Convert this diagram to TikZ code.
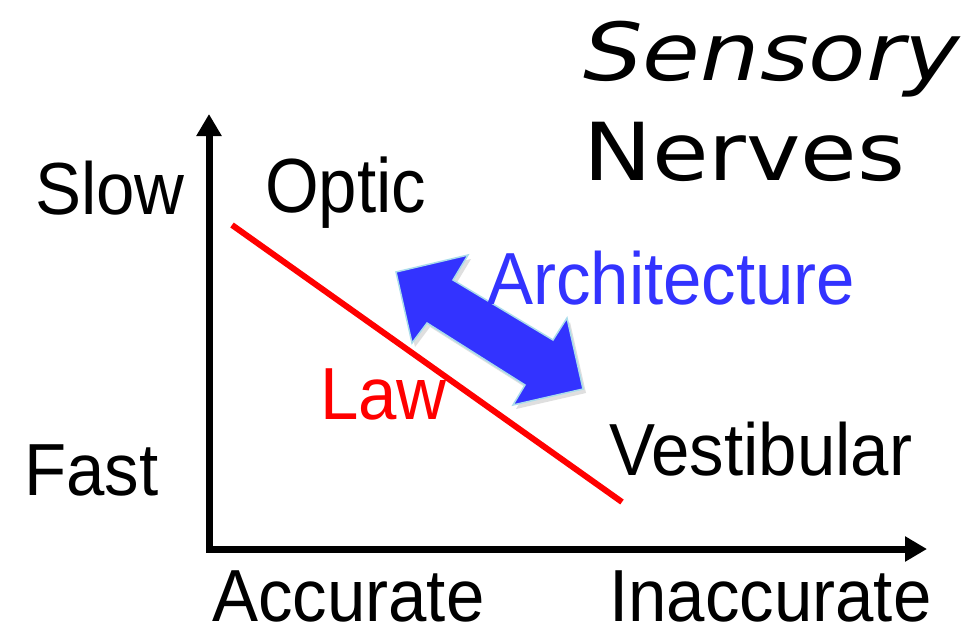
\documentclass[tikz,border=0pt]{standalone}
\usepackage{fontspec}
\setmainfont{Liberation Sans}
\newfontfamily\verd{DejaVu Sans}
\usetikzlibrary{arrows.meta}
\definecolor{archblue}{RGB}{51,51,255}
\definecolor{arrowedge}{RGB}{170,220,235}
\tikzset{
  lbl/.style={anchor=base west, inner sep=0pt, text depth=0pt, yscale=1.07, font=\fontsize{69}{69}\selectfont},
  ttl/.style={anchor=base west, inner sep=0pt, text depth=0pt, xscale=1.15, font=\verd\fontsize{80}{80}\selectfont},
  axis/.style={line width=7pt, {Triangle[width=24pt,length=22pt]}-{Triangle[width=24pt,length=22pt]}},
}
\begin{document}
\begin{tikzpicture}[x=1pt,y=-1pt]
\useasboundingbox (0,0) rectangle (973,635);
% axes
\coordinate (ytip) at (209,114);
\coordinate (origin) at (209,549);
\coordinate (xtip) at (927,549);
\draw[axis, line join=miter] (ytip) -- (origin) -- (xtip);
% law line
\coordinate (l1) at (232,225);
\coordinate (l2) at (622,502);
\draw[red, line width=6pt] (l1) -- (l2);
% double arrow
\fill[black!25, opacity=0.5, xshift=3pt, yshift=-4pt] (396,272) -- (468,255) -- (453,280) -- (553,340) -- (567,318) -- (583,389) -- (513,405) -- (525,385) -- (427,323) -- (412,343) -- cycle;
\filldraw[fill=archblue, draw=arrowedge, line width=1.5pt, line join=miter] (396,272) -- (468,255) -- (453,280) -- (553,340) -- (567,318) -- (583,389) -- (513,405) -- (525,385) -- (427,323) -- (412,343) -- cycle;
% labels
\node[ttl, xscale=1.02, font=\verd\itshape\fontsize{80}{80}\selectfont] (sens) at (583,80) {Sensory};
\node[ttl] (nerv) at (583,180) {Nerves};
\node[lbl] (slow) at (35,214) {Slow};
\node[lbl, yscale=1.04] (optic) at (265,212) {Optic};
\node[lbl, text=archblue] (arch) at (487,304) {Architecture};
\node[lbl, text=red] (law) at (320,419) {Law};
\node[lbl] (vest) at (609,475) {Vestibular};
\node[lbl] (fast) at (24,495) {Fast};
\node[lbl] (acc) at (212,621) {Accurate};
\node[lbl] (inacc) at (609,621) {Inaccurate};
\end{tikzpicture}
\end{document}
